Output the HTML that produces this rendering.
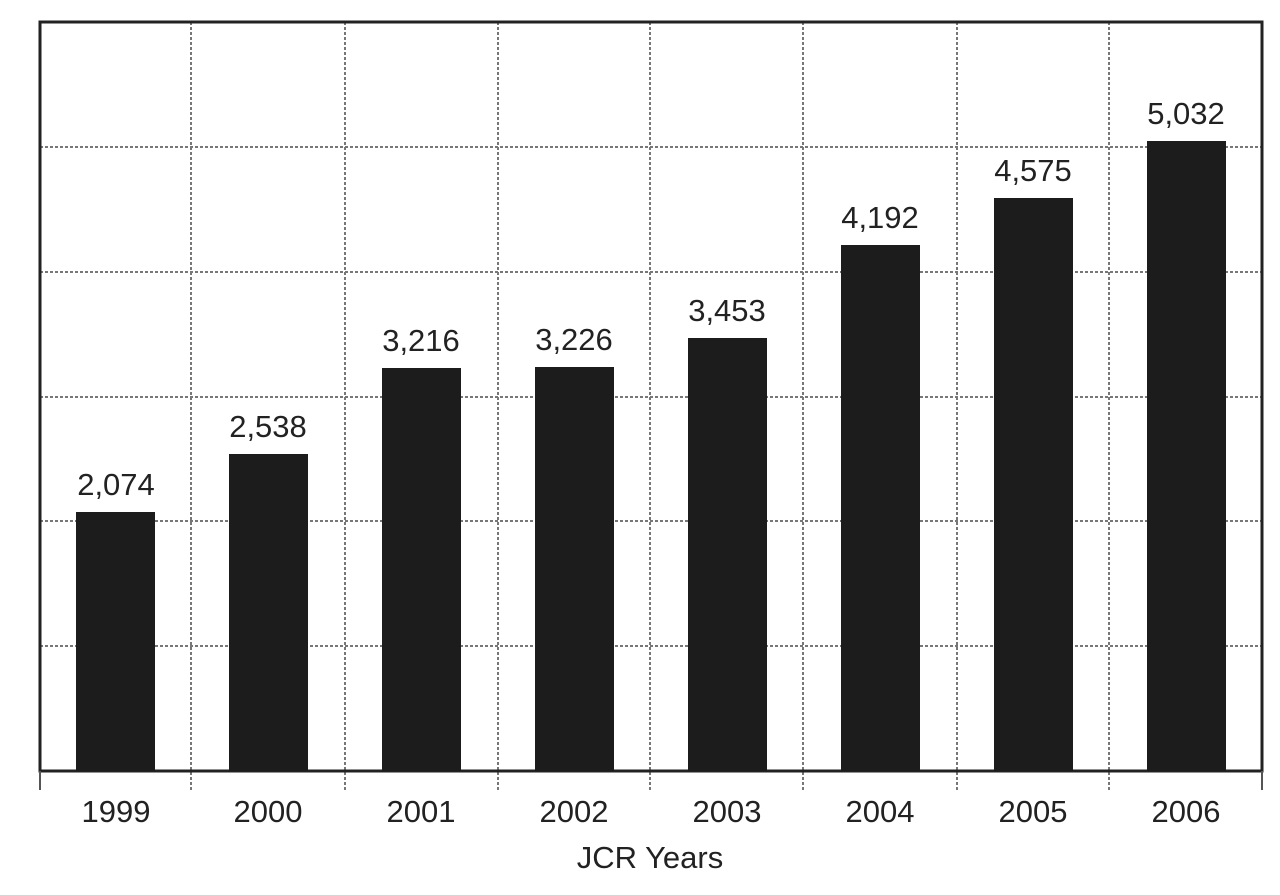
<!DOCTYPE html>
<html><head><style>body{margin:0;background:#fff}</style></head><body>
<svg width="1280" height="890" xmlns="http://www.w3.org/2000/svg" font-family="Liberation Sans, sans-serif">
<rect width="1280" height="890" fill="#fff"/>
<g stroke="#777" stroke-width="2" stroke-dasharray="3,2">
<line x1="40" y1="147" x2="1262" y2="147"/><line x1="40" y1="272" x2="1262" y2="272"/>
<line x1="40" y1="397" x2="1262" y2="397"/><line x1="40" y1="521" x2="1262" y2="521"/>
<line x1="40" y1="646" x2="1262" y2="646"/>
<line x1="191" y1="22" x2="191" y2="790"/><line x1="345" y1="22" x2="345" y2="790"/>
<line x1="498" y1="22" x2="498" y2="790"/><line x1="650" y1="22" x2="650" y2="790"/>
<line x1="803" y1="22" x2="803" y2="790"/><line x1="957" y1="22" x2="957" y2="790"/>
<line x1="1109" y1="22" x2="1109" y2="790"/>
</g>
<rect x="40" y="22" width="1222" height="749" fill="none" stroke="#222" stroke-width="3"/>
<line x1="40" y1="771" x2="40" y2="790" stroke="#555" stroke-width="2"/>
<line x1="1262" y1="771" x2="1262" y2="790" stroke="#555" stroke-width="2"/>
<g fill="#1c1c1c">
<rect x="76" y="512" width="79" height="259"/><rect x="229" y="454" width="79" height="317"/>
<rect x="382" y="368" width="79" height="403"/><rect x="535" y="367" width="79" height="404"/>
<rect x="688" y="338" width="79" height="433"/><rect x="841" y="245" width="79" height="526"/>
<rect x="994" y="198" width="79" height="573"/><rect x="1147" y="141" width="79" height="630"/>
</g>
<g font-size="31" fill="#222" text-anchor="middle">
<text x="116" y="495">2,074</text><text x="268" y="437">2,538</text>
<text x="421" y="351">3,216</text><text x="574" y="350">3,226</text>
<text x="727" y="321">3,453</text><text x="880" y="228">4,192</text>
<text x="1033" y="181">4,575</text><text x="1186" y="124">5,032</text>
<text x="116" y="822">1999</text><text x="268" y="822">2000</text>
<text x="421" y="822">2001</text><text x="574" y="822">2002</text>
<text x="727" y="822">2003</text><text x="880" y="822">2004</text>
<text x="1033" y="822">2005</text><text x="1186" y="822">2006</text>
<text x="650" y="868">JCR Years</text>
</g>
</svg>
</body></html>
